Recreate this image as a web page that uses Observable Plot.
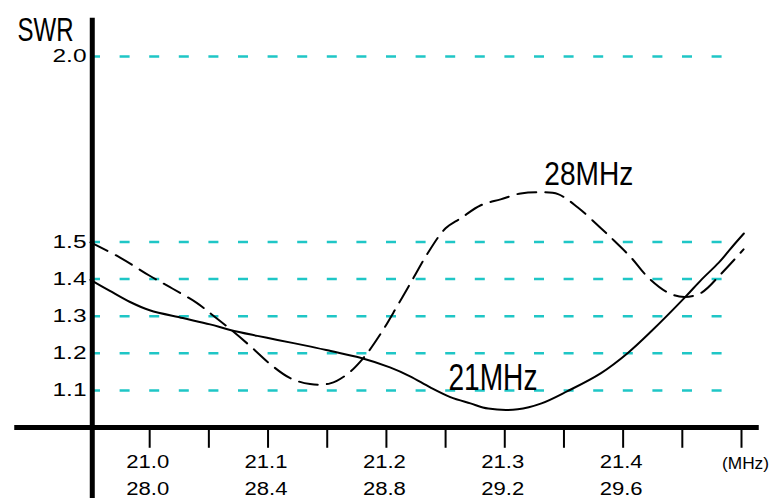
<!DOCTYPE html>
<html>
<head>
<meta charset="utf-8">
<script src="https://cdn.jsdelivr.net/npm/d3@7"></script>
<script src="https://cdn.jsdelivr.net/npm/@observablehq/plot@0.6"></script>
<style>
  html, body { margin: 0; padding: 0; background: #fff; }
  #chart svg { display: block; }
</style>
</head>
<body>
<div id="chart"></div>
<script>
// ---- data ----
// 21 MHz band curve (solid): frequency in MHz, SWR
const band21Freq = [20.950, 20.966, 20.983, 21.000, 21.028, 21.051, 21.068, 21.091, 21.108, 21.133,
                    21.153, 21.178, 21.203, 21.220, 21.237, 21.254, 21.271, 21.286, 21.311, 21.331,
                    21.353, 21.381, 21.404, 21.424, 21.452, 21.466, 21.481, 21.494, 21.502];
const band21Swr  = [1.398, 1.369, 1.339, 1.316, 1.295, 1.278, 1.263, 1.247, 1.236, 1.220,
                    1.206, 1.188, 1.162, 1.138, 1.108, 1.082, 1.065, 1.051, 1.049, 1.065,
                    1.098, 1.146, 1.201, 1.260, 1.350, 1.398, 1.445, 1.494, 1.523];
// 28 MHz band curve (dashed): frequency in MHz, SWR
const band28Freq = [27.800, 27.900, 28.000, 28.078, 28.159, 28.203, 28.271, 28.339, 28.407, 28.475,
                    28.542, 28.610, 28.668, 28.722, 28.780, 28.837, 28.892, 28.939, 29.000, 29.051,
                    29.119, 29.186, 29.254, 29.322, 29.380, 29.447, 29.525, 29.569, 29.627, 29.685,
                    29.753, 29.807, 29.864, 29.932, 30.007];
const band28Swr  = [1.499, 1.458, 1.409, 1.374, 1.336, 1.309, 1.266, 1.220, 1.171, 1.133,
                    1.117, 1.119, 1.144, 1.187, 1.252, 1.328, 1.404, 1.469, 1.537, 1.564,
                    1.599, 1.615, 1.631, 1.634, 1.629, 1.593, 1.537, 1.504, 1.458, 1.404,
                    1.363, 1.352, 1.363, 1.415, 1.480];

// axis ticks and labels
const xTicks     = [21.0, 21.05, 21.1, 21.15, 21.2, 21.25, 21.3, 21.35, 21.4, 21.45, 21.5];
const xLabelPos  = [21.0, 21.1, 21.2, 21.3, 21.4];
const xLabels21  = ["21.0", "21.1", "21.2", "21.3", "21.4"];
const xLabels28  = ["28.0", "28.4", "28.8", "29.2", "29.6"];
const yTicks     = [1.1, 1.2, 1.3, 1.4, 1.5, 2.0];
const yLabels    = ["1.1", "1.2", "1.3", "1.4", "1.5", "2.0"];

// map the 28 MHz band onto the shared axis (28.0 ↔ 21.0, 29.6 ↔ 21.4)
const to21 = f => 21 + (f - 28) / 4;

const solid = band21Freq.map((f, i) => ({x: f, y: band21Swr[i]}));
const dashed = band28Freq.map((f, i) => ({x: to21(f), y: band28Swr[i]}));

const FONT = "Liberation Sans, Arial, sans-serif";
const CYAN = "#1fc6c6";

const plot = Plot.plot({
  width: 769,
  height: 498,
  marginLeft: 90,
  marginRight: 28,
  marginTop: 56,
  marginBottom: 71,
  x: {domain: [20.95, 21.5], axis: null},
  y: {domain: [1.0, 2.0], axis: null},
  style: {background: "#fff", fontFamily: FONT},
  marks: [
    // dashed cyan grid
    Plot.ruleY(yTicks, {x1: 20.95, x2: 21.485, stroke: CYAN, strokeWidth: 2.5,
      strokeDasharray: "10,19.6", strokeDashoffset: 0}),
    // curves
    Plot.line(dashed, {x: "x", y: "y", stroke: "#000", strokeWidth: 2, curve: "catmull-rom",
      strokeDasharray: "19,9", clip: false}),
    Plot.line(solid, {x: "x", y: "y", stroke: "#000", strokeWidth: 2, curve: "catmull-rom", clip: false}),
    // axes
    Plot.ruleX([20.9515], {y1: 0.8, y2: 2.103, stroke: "#000", strokeWidth: 5}),
    Plot.ruleY([1.0], {x1: 20.886, x2: 21.515, stroke: "#000", strokeWidth: 5}),
    Plot.ruleX(xTicks, {y1: 0.995, y2: 0.944, stroke: "#000", strokeWidth: 2}),
    // x tick labels (two rows)
    Plot.text(xLabels21, {x: (d, i) => xLabelPos[i], frameAnchor: "bottom", lineAnchor: "middle",
      dy: 35, dx: -2, text: d => d, fontSize: 18, fill: "#000"}),
    Plot.text(xLabels28, {x: (d, i) => xLabelPos[i], frameAnchor: "bottom", lineAnchor: "middle",
      dy: 62, dx: -2, text: d => d, fontSize: 18, fill: "#000"}),
    Plot.text(["(MHz)"], {x: 21.5, frameAnchor: "bottom", lineAnchor: "middle", dy: 36, dx: 4,
      text: d => d, fontSize: 16, fill: "#000"}),
    // y tick labels
    Plot.text(yLabels, {x: 20.95, y: (d, i) => yTicks[i], textAnchor: "end", lineAnchor: "middle",
      dx: -4, text: d => d, fontSize: 18, fill: "#000"}),
    // titles / annotations
    Plot.text(["SWR"], {frameAnchor: "top-left", lineAnchor: "middle", dx: -73, dy: -26,
      textAnchor: "start", text: d => d, fontSize: 33, fill: "#000"}),
    Plot.text(["28MHz"], {x: 21.371, y: 1.683, lineAnchor: "middle", text: d => d, fontSize: 33, fill: "#000"}),
    Plot.text(["21MHz"], {x: 21.290, y: 1.134, lineAnchor: "middle", text: d => d, fontSize: 37, fill: "#000"})
  ]
});

// condense the lettering to the narrow face used in the reference
const widths = {"SWR": 56, "28MHz": 89, "21MHz": 89, "(MHz)": 47};
d3.select(plot).selectAll("text").each(function () {
  const t = this.textContent;
  let w = widths[t];
  if (w === undefined && /^\d\d\.\d$/.test(t)) w = 43;
  if (w === undefined && /^\d\.\d$/.test(t)) w = 34;
  if (w !== undefined) {
    this.setAttribute("textLength", w);
    this.setAttribute("lengthAdjust", "spacingAndGlyphs");
  }
});

document.getElementById("chart").appendChild(plot);
</script>
</body>
</html>
